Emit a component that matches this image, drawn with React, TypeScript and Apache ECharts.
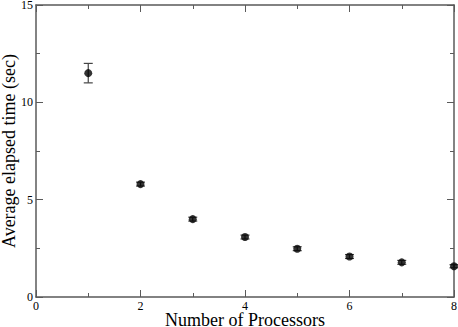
import React, { useEffect, useRef } from "react";
import * as echarts from "echarts";

const processors = [1, 2, 3, 4, 5, 6, 7, 8];
const meanTime = [11.5, 5.8, 4.0, 3.08, 2.48, 2.08, 1.78, 1.58];
const errLow = [11.0, 5.7, 3.9, 2.98, 2.38, 1.98, 1.68, 1.5];
const errHigh = [12.0, 5.9, 4.1, 3.18, 2.58, 2.18, 1.88, 1.66];

const xTitle = "Number of Processors";
const yTitle = "Average elapsed time (sec)";

const FONT = '"Liberation Serif", "Times New Roman", serif';
const AXIS_COLOR = "#5a5a5a";

export default function App() {
  const ref = useRef<HTMLDivElement>(null);
  useEffect(() => {
    document.body.style.margin = "0";
    const chart = echarts.init(ref.current!, undefined, { renderer: "svg" });
    const pts = processors.map((x, i) => [x, meanTime[i]]);
    const errs = processors.map((x, i) => [x, errLow[i], errHigh[i]]);
    const axisCommon = {
      axisLine: { show: true, onZero: false, lineStyle: { color: AXIS_COLOR, width: 1.5 } },
      axisTick: { show: true, inside: true, length: 7, lineStyle: { color: AXIS_COLOR } },
      minorTick: { show: true, splitNumber: 2, length: 4, lineStyle: { color: AXIS_COLOR } },
      splitLine: { show: false },
      minorSplitLine: { show: false },
    };
    chart.setOption({
      animation: false,
      grid: { left: 36, right: 4, top: 5, bottom: 30, containLabel: false, outerBoundsMode: "none" },
      xAxis: [
        {
          type: "value",
          min: 0,
          max: 8,
          interval: 2,
          position: "bottom",
          name: xTitle,
          nameLocation: "middle",
          nameGap: 14,
          nameMoveOverlap: false,
          nameTextStyle: { fontFamily: FONT, fontSize: 18, color: "#000" },
          axisLabel: { fontFamily: FONT, fontSize: 12, color: "#000", margin: 3 },
          ...axisCommon,
        },
        {
          type: "value",
          min: 0,
          max: 8,
          interval: 2,
          position: "top",
          axisLabel: { show: false },
          ...axisCommon,
        },
      ],
      yAxis: [
        {
          type: "value",
          min: 0,
          max: 15,
          interval: 5,
          position: "left",
          name: yTitle,
          nameLocation: "middle",
          nameGap: 18,
          nameMoveOverlap: false,
          nameTextStyle: { fontFamily: FONT, fontSize: 18, color: "#000" },
          axisLabel: { fontFamily: FONT, fontSize: 12, color: "#000", margin: 3 },
          ...axisCommon,
        },
        {
          type: "value",
          min: 0,
          max: 15,
          interval: 5,
          position: "right",
          axisLabel: { show: false },
          ...axisCommon,
        },
      ],
      series: [
        {
          type: "custom",
          data: errs,
          clip: false,
          renderItem: (params: any, api: any) => {
            const x = api.value(0);
            const lo = api.coord([x, api.value(1)]);
            const hi = api.coord([x, api.value(2)]);
            const w = 4.5;
            const style = { stroke: "#444", lineWidth: 1.2 };
            return {
              type: "group",
              children: [
                { type: "line", shape: { x1: lo[0], y1: lo[1], x2: hi[0], y2: hi[1] }, style },
                { type: "line", shape: { x1: hi[0] - w, y1: hi[1], x2: hi[0] + w, y2: hi[1] }, style },
                { type: "line", shape: { x1: lo[0] - w, y1: lo[1], x2: lo[0] + w, y2: lo[1] }, style },
              ],
            };
          },
          z: 2,
        },
        {
          type: "scatter",
          data: pts,
          symbol: "circle",
          symbolSize: 8,
          clip: false,
          itemStyle: { color: "#000" },
          z: 3,
        },
      ],
    });
    return () => chart.dispose();
  }, []);
  return <div ref={ref} style={{ width: 458, height: 327 }} />;
}
